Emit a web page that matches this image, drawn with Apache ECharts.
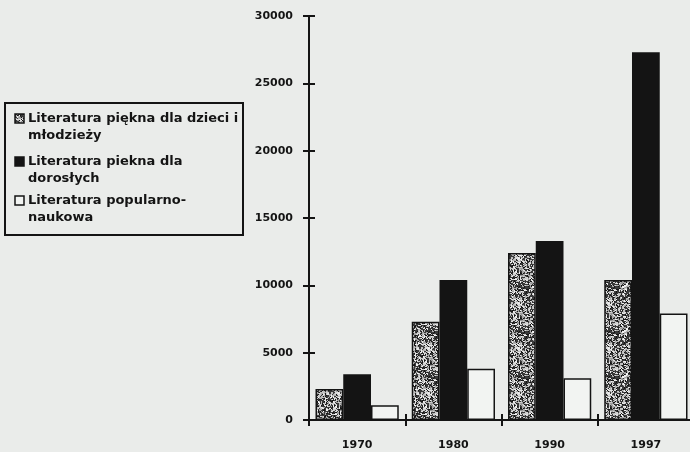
<!DOCTYPE html>
<html>
<head>
<meta charset="utf-8">
<script src="https://cdn.jsdelivr.net/npm/echarts@6/dist/echarts.min.js"></script>
<style>
html,body{margin:0;padding:0;background:#eaecea;overflow:hidden;}
#chart{width:694px;height:452px;}
</style>
</head>
<body>
<div id="chart"></div>
<script>
// ---- data ----
var categories = ['1970', '1980', '1990', '1997'];
var seriesNames = [
  'Literatura piękna dla dzieci i\nmłodzieży',
  'Literatura piekna dla\ndorosłych',
  'Literatura popularno-\nnaukowa'
];
var childrenFiction = [2300, 7300, 12400, 10400];
var adultFiction = [3400, 10400, 13300, 27300];
var popularScience = [1100, 3800, 3100, 7900];
var yTicks = [0, 5000, 10000, 15000, 20000, 25000, 30000];

// ---- stipple pattern (style only) ----
function makePattern() {
  var c = document.createElement('canvas');
  c.width = 45; c.height = 45;
  var ctx = c.getContext('2d');
  var s = 98765;
  function rnd() { s = (s * 1103515245 + 12345) % 2147483648; return s / 2147483648; }
  ctx.fillStyle = '#3a3a3a';
  ctx.fillRect(0, 0, 45, 45);
  for (var y = 0; y < 45; y += 1) {
    for (var x = 0; x < 45; x += 1) {
      var r = rnd();
      if (r < 0.33) {
        var g = 150 + Math.floor(rnd() * 100);
        ctx.fillStyle = 'rgb(' + g + ',' + g + ',' + g + ')';
        ctx.fillRect(x, y, 1 + Math.floor(rnd() * 2), 1 + Math.floor(rnd() * 2));
      } else if (r < 0.5) {
        ctx.fillStyle = '#151515';
        ctx.fillRect(x, y, 1, 1);
      }
    }
  }
  return c;
}
var pattern = makePattern();
var bg = '#eaecea';
var ink = '#141414';

var chart = echarts.init(document.getElementById('chart'));
var fnt = '"DejaVu Sans", Verdana, sans-serif';
var option = {
  backgroundColor: bg,
  animation: false,
  grid: { left: 309, top: 16, right: 0, bottom: 32, containLabel: false },
  xAxis: [{
    type: 'category', data: categories, boundaryGap: true,
    axisLine: { lineStyle: { color: ink, width: 2 } },
    axisTick: { show: true, length: 6, lineStyle: { color: ink, width: 2 } },
    axisLabel: { color: ink, fontWeight: 'bold', fontSize: 11, fontFamily: fnt, margin: 20 },
    splitLine: { show: false }
  }, {
    type: 'category', data: categories, boundaryGap: true, position: 'bottom',
    axisLine: { show: false },
    axisTick: { show: true, inside: true, length: 6, lineStyle: { color: ink, width: 2 } },
    axisLabel: { show: false }
  }],
  yAxis: [{
    type: 'value', min: 0, max: 30000, interval: 5000,
    axisLine: { show: true, lineStyle: { color: ink, width: 2 } },
    axisTick: { show: true, length: 6, lineStyle: { color: ink, width: 2 } },
    axisLabel: { color: ink, fontWeight: 'bold', fontSize: 11, fontFamily: fnt, margin: 16,
      formatter: function (v) { return String(v); } },
    splitLine: { show: false }
  }, {
    type: 'value', min: 0, max: 30000, interval: 5000, position: 'left',
    axisLine: { show: false },
    axisTick: { show: true, inside: true, length: 6, lineStyle: { color: ink, width: 2 } },
    axisLabel: { show: false },
    splitLine: { show: false }
  }],
  series: [{
    name: seriesNames[0], type: 'bar', data: childrenFiction,
    barGap: '0%', barCategoryGap: '13.5%',
    itemStyle: { color: { image: pattern, repeat: 'repeat' }, borderColor: ink, borderWidth: 1.5 }
  }, {
    name: seriesNames[1], type: 'bar', data: adultFiction,
    itemStyle: { color: ink, borderColor: ink, borderWidth: 1.5 }
  }, {
    name: seriesNames[2], type: 'bar', data: popularScience,
    itemStyle: { color: '#f2f4f2', borderColor: ink, borderWidth: 1.5 }
  }],
  graphic: [
    { type: 'rect', shape: { x: 5, y: 103, width: 238, height: 132 }, style: { fill: 'none', stroke: ink, lineWidth: 2 } },
    { type: 'rect', shape: { x: 15, y: 114, width: 9, height: 9 }, style: { fill: { image: pattern, repeat: 'repeat' }, stroke: ink, lineWidth: 1.5 } },
    { type: 'rect', shape: { x: 15, y: 157, width: 9, height: 9 }, style: { fill: ink, stroke: ink, lineWidth: 1.5 } },
    { type: 'rect', shape: { x: 15, y: 196, width: 9, height: 9 }, style: { fill: '#f2f4f2', stroke: ink, lineWidth: 1.5 } },
    { type: 'text', x: 28, y: 110, style: { text: seriesNames[0], font: 'bold 13px ' + fnt, lineHeight: 17, fill: ink } },
    { type: 'text', x: 28, y: 153, style: { text: seriesNames[1], font: 'bold 13px ' + fnt, lineHeight: 17, fill: ink } },
    { type: 'text', x: 28, y: 192, style: { text: seriesNames[2], font: 'bold 13px ' + fnt, lineHeight: 17, fill: ink } }
  ]
};
chart.setOption(option);
</script>
</body>
</html>
